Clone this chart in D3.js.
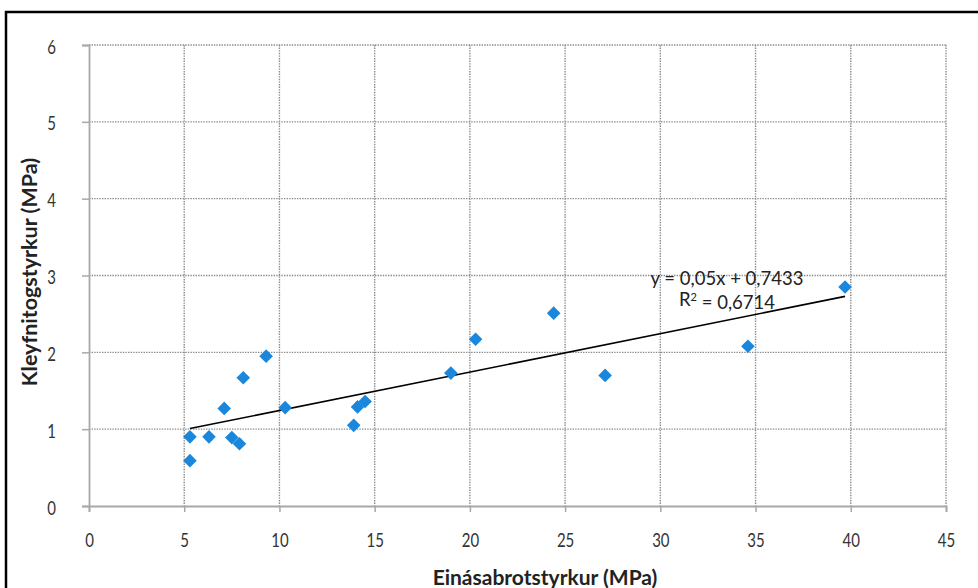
<!DOCTYPE html>
<html>
<head>
<meta charset="utf-8">
<script src="https://cdn.jsdelivr.net/npm/d3@7"></script>
<style>
  html, body { margin: 0; padding: 0; background: #fff; }
  svg { display: block; }
  text { font-family: Lato, "Open Sans", sans-serif; }
</style>
</head>
<body>
<svg id="chart" width="978" height="588"></svg>
<script>
// ---- data ----
const xValues = [5.3, 5.3, 6.3, 7.1, 7.5, 7.9, 8.1, 9.3, 10.3, 13.9, 14.1, 14.5, 19.0, 20.3, 24.4, 27.1, 34.6, 39.7];
const yValues = [0.90, 0.59, 0.90, 1.27, 0.89, 0.81, 1.67, 1.95, 1.28, 1.05, 1.29, 1.36, 1.73, 2.17, 2.51, 1.70, 2.08, 2.85];
const xTicks = [0, 5, 10, 15, 20, 25, 30, 35, 40, 45];
const yTicks = [0, 1, 2, 3, 4, 5, 6];
const trendSlope = 0.05;
const trendIntercept = 0.7433;
const equationLabel = "y = 0,05x + 0,7433";
const r2Label = "0,6714";
const xTitle = "Einásabrotstyrkur (MPa)";
const yTitle = "Kleyfnitogstyrkur (MPa)";

// ---- layout ----
const svg = d3.select("#chart");
const pLeft = 89, pRight = 946, pTop = 45, pBottom = 506;
const x = d3.scaleLinear().domain([0, 45]).range([pLeft, pRight]);
const y = d3.scaleLinear().domain([0, 6]).range([pBottom, pTop]);

// outer frame (top and left edges visible)
svg.append("path")
  .attr("d", `M6,600 V12 H990`)
  .attr("fill", "none").attr("stroke", "#000").attr("stroke-width", 2.5);

// gridlines
const grid = svg.append("g");
grid.selectAll("line.h").data(yTicks.filter(d => d > 0)).join("line")
  .attr("x1", pLeft).attr("x2", pRight)
  .attr("y1", d => y(d)).attr("y2", d => y(d))
  .attr("stroke", "#8a8a8a").attr("stroke-width", 1.4).attr("stroke-dasharray", "1.4,1.2");
grid.selectAll("line.v").data(xTicks.filter(d => d > 0)).join("line")
  .attr("y1", pTop).attr("y2", pBottom)
  .attr("x1", d => x(d)).attr("x2", d => x(d))
  .attr("stroke", "#8a8a8a").attr("stroke-width", 1.4).attr("stroke-dasharray", "1.4,1.2");

// axes
const sy = 1.25; // vertical stretch of the glyphs, as in the scanned original
const xAxis = svg.append("g").attr("transform", `translate(0,${pBottom})`)
  .call(d3.axisBottom(x).tickValues(xTicks).tickSize(6).tickPadding(20).tickFormat(d3.format("d")));
const yAxis = svg.append("g").attr("transform", `translate(${pLeft},0)`)
  .call(d3.axisLeft(y).tickValues(yTicks).tickSize(7).tickPadding(26).tickFormat(d3.format("d")));
[xAxis, yAxis].forEach(a => {
  a.select(".domain").attr("stroke", "#a8a8a8").attr("stroke-width", 1.8);
  a.selectAll(".tick line").attr("stroke", "#a8a8a8").attr("stroke-width", 1.5);
  a.selectAll(".tick text").attr("fill", "#333").style("font-size", "15px")
    .style("font-family", "Lato, 'Open Sans', sans-serif")
    .attr("transform", `scale(1,${sy})`).attr("dy", 0);
});
yAxis.selectAll(".tick text").attr("y", 8 / sy);
xAxis.selectAll(".tick text").attr("y", 41 / sy);

// trendline
const xMin = d3.min(xValues), xMax = d3.max(xValues);
svg.append("line")
  .attr("x1", x(xMin)).attr("y1", y(trendSlope * xMin + trendIntercept))
  .attr("x2", x(xMax)).attr("y2", y(trendSlope * xMax + trendIntercept))
  .attr("stroke", "#000").attr("stroke-width", 1.6);

// points
const diamond = d3.symbolDiamond2 || d3.symbolSquare;
const rot = d3.symbolDiamond2 ? 0 : 45;
const pts = xValues.map((v, i) => [v, yValues[i]]);
svg.append("g").selectAll("path").data(pts).join("path")
  .attr("d", d3.symbol().type(diamond).size(118))
  .attr("transform", d => `translate(${x(d[0])},${y(d[1])}) rotate(${rot})`)
  .attr("fill", "#1b87dc");

// equation labels
svg.append("text").attr("x", 727).attr("y", 285).attr("text-anchor", "middle")
  .attr("fill", "#222").style("font-size", "18.5px").text(equationLabel);
const r2 = svg.append("text").attr("x", 727).attr("y", 306).attr("text-anchor", "middle")
  .attr("fill", "#222").style("font-size", "18.5px");
r2.append("tspan").text("R");
r2.append("tspan").attr("dy", "-0.45em").style("font-size", "11px").text("2");
r2.append("tspan").attr("dy", "0.45em").text(" = " + r2Label);

// axis titles
svg.append("text").attr("x", 545).attr("y", 585).attr("text-anchor", "middle")
  .attr("fill", "#222").style("font-size", "21px").style("font-weight", "bold").text(xTitle);
svg.append("text").attr("transform", `translate(37,272) rotate(-90)`)
  .attr("text-anchor", "middle").attr("fill", "#222")
  .style("font-size", "21.5px").style("font-weight", "bold").text(yTitle);
</script>
</body>
</html>
